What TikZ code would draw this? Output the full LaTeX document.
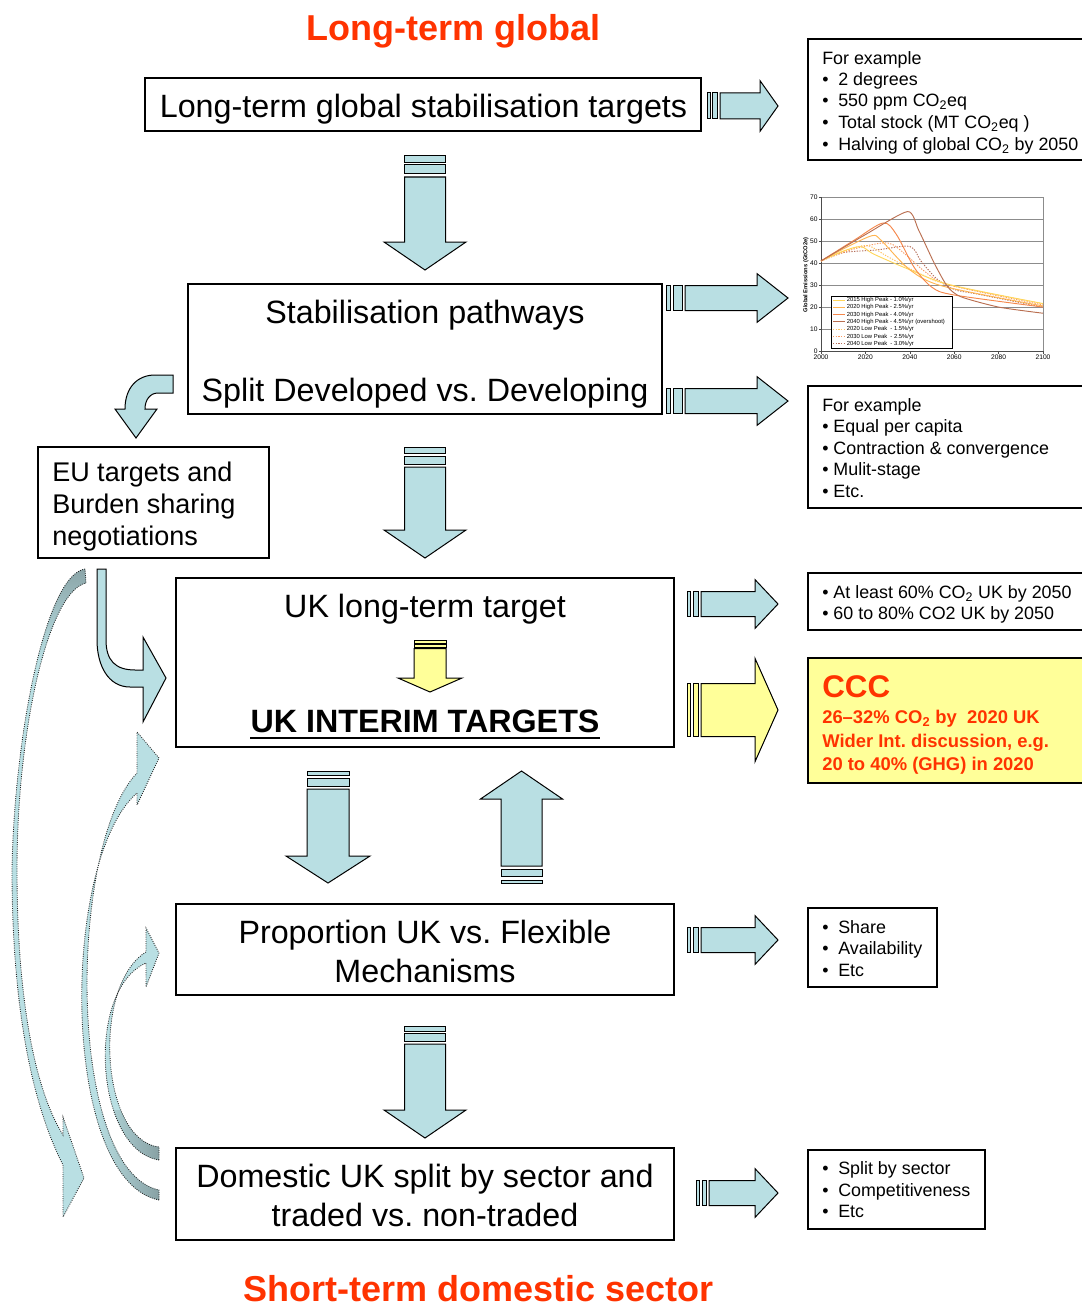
\documentclass[tikz,border=0pt]{standalone}
\usepackage{fontspec}
\setmainfont{Liberation Sans}
\usetikzlibrary{fit}
\frenchspacing
\definecolor{titlered}{RGB}{255,51,0}
\definecolor{arrowblue}{RGB}{185,223,227}
\definecolor{tailgray}{RGB}{135,160,163}
\definecolor{paleyellow}{RGB}{255,255,153}
\definecolor{gridgray}{RGB}{140,140,140}
\definecolor{cA}{RGB}{255,214,90}
\definecolor{cB}{RGB}{255,180,80}
\definecolor{cC}{RGB}{245,135,75}
\definecolor{cD}{RGB}{185,110,80}
\definecolor{cE}{RGB}{255,195,100}
\definecolor{cF}{RGB}{248,155,100}
\definecolor{cG}{RGB}{180,110,90}
\def\blkcolor{arrowblue}
% right-pointing block arrow with two stripes: x0 x1 x2 x3 x4 xbase xtip yc halfshaft
\newcommand\rblock[9]{%
  \draw[blockarrow] (#1,{#8-#9}) rectangle (#2,{#8+#9});
  \draw[blockarrow] (#3,{#8-#9}) rectangle (#4,{#8+#9});
  \draw[blockarrow] (#5,{#8-#9}) -- (#6,{#8-#9}) -- (#6,{#8-1.95*#9}) -- (#7,#8) -- (#6,{#8+1.95*#9}) -- (#6,{#8+#9}) -- (#5,{#8+#9}) -- cycle;}
% down block arrow: xc y0 y1 y2 y3 y4 ybase ytip halfshaft
\newcommand\dblock[9]{%
  \draw[blockarrow] ({#1-#9},#2) rectangle ({#1+#9},#3);
  \draw[blockarrow] ({#1-#9},#4) rectangle ({#1+#9},#5);
  \draw[blockarrow] ({#1-#9},#6) -- ({#1-#9},#7) -- ({#1-2*#9},#7) -- (#1,#8) -- ({#1+2*#9},#7) -- ({#1+#9},#7) -- ({#1+#9},#6) -- cycle;}
% up block arrow: xc ytip ybase yend s1a s1b s2a s2b halfshaft
\newcommand\ublock[9]{%
  \draw[blockarrow] ({#1-#9},#4) -- ({#1-#9},#3) -- ({#1-2*#9},#3) -- (#1,#2) -- ({#1+2*#9},#3) -- ({#1+#9},#3) -- ({#1+#9},#4) -- cycle;
  \draw[blockarrow] ({#1-#9},#5) rectangle ({#1+#9},#6);
  \draw[blockarrow] ({#1-#9},#7) rectangle ({#1+#9},#8);}
\newcommand\legrow[5]{%
  \draw[#2, line width=0.7pt, #3] (833,#1) -- (845,#1);
  \node[legtxt] (#5) at (846.5,#1) {#4};}
% curved dotted arrows
\def\curveA{(85,569) .. controls (45,575) and (14,740) .. (12,870) .. controls (12,1000) and (30,1100) .. (63,1165) -- (63,1217) -- (84,1178) -- (63,1117) -- (63,1135) .. controls (35,1090) and (17,1000) .. (17,870) .. controls (17,730) and (48,592) .. (86,583) -- cycle}
\def\curveB{(159,1200) .. controls (60,1180) and (60,860) .. (137,793) -- (137,805) -- (159,758) -- (137,732) -- (137,773) .. controls (68,845) and (66,1170) .. (159,1190) -- cycle}
\def\curveC{(159,1160) .. controls (95,1150) and (85,990) .. (146,963) -- (146,987) -- (159,953) -- (146,928) -- (146,952) .. controls (92,985) and (100,1140) .. (159,1147) -- cycle}
\begin{document}
\begin{tikzpicture}[x=0.75pt,y=-0.75pt,
  mainbox/.style={draw=black, line width=0.9pt, inner sep=0pt, fill=white},
  maintext/.style={font=\fontsize{24.2}{29}\selectfont, inner sep=0pt, anchor=base},
  eutext/.style={font=\fontsize{20.25}{24}\selectfont, inner sep=0pt, anchor=base west},
  rtext/.style={font=\fontsize{13.4}{16}\selectfont, inner sep=0pt, anchor=base west},
  ccctext/.style={font=\fontsize{13.8}{17}\bfseries\selectfont, text=titlered, inner sep=0pt, anchor=base west},
  titletext/.style={font=\fontsize{27}{30}\bfseries\selectfont, text=titlered, inner sep=0pt, anchor=base},
  rbox/.style={draw=black, line width=0.8pt},
  blockarrow/.style={draw=black, line width=0.75pt, fill=\blkcolor, line join=miter},
  curvedarrow/.style={draw=black!85, densely dotted, line width=0.65pt},
  ticklbl/.style={font=\fontsize{5}{6}\selectfont, inner sep=0pt},
  legtxt/.style={font=\fontsize{4.4}{5}\selectfont, anchor=west, inner sep=0pt},
  dotcurve/.style={dash pattern=on 1pt off 1pt}
]
\useasboundingbox (0,0) rectangle (1081,1309);

% ---------- titles
\node[titletext] (ttop) at (453.5,40.5) {Long-term global};
\node[titletext] (tbot) at (478.5,1301) {Short-term domestic sector};

% ---------- main boxes
\node[mainbox, fit={(145,78) (701,131)}] (b1) {};
\node[maintext] (b1t) at (423.5,117.5) {Long-term global stabilisation targets};

\node[mainbox, fit={(188,284) (662,414)}] (b2) {};
\node[maintext] (b2a) at (425,323.5) {Stabilisation pathways};
\node[maintext] (b2b) at (425,401.5) {Split Developed vs. Developing};

\node[mainbox, fit={(38,447) (269,558)}] (eu) {};
\node[eutext] (eua) at (52,481.7) {EU targets and};
\node[eutext] (eub) at (52,513.7) {Burden sharing};
\node[eutext] (euc) at (52,545.7) {negotiations};

\node[mainbox, fit={(176,578) (674,747)}] (uk) {};
\node[maintext] (uka) at (425,617.5) {UK long-term target};
\node[maintext, font=\fontsize{24.2}{29}\bfseries\selectfont] (ukb) at (425,732.5) {UK INTERIM TARGETS};
\draw[line width=1.5pt] ([yshift=-4.3pt]ukb.base west) -- ([yshift=-4.3pt]ukb.base east);

\node[mainbox, fit={(176,904) (674,995)}] (pr) {};
\node[maintext] (pra) at (425,943.5) {Proportion UK vs. Flexible};
\node[maintext] (prb) at (425,982.5) {Mechanisms};

\node[mainbox, fit={(176,1148) (674,1240)}] (dm) {};
\node[maintext] (dma) at (425,1187.5) {Domestic UK split by sector and};
\node[maintext] (dmb) at (425,1226.5) {traded vs. non-traded};

% ---------- right boxes
\draw[rbox] (1082,39) -- (808,39) -- (808,160) -- (1082,160);
\node[rtext] (ra1) at (822,64.4) {For example};
\node[rtext] (ra2) at (822,85.4) {\makebox[12pt][l]{•}2 degrees};
\node[rtext] (ra3) at (822,106.4) {\makebox[12pt][l]{•}550 ppm CO\textsubscript{2}eq};
\node[rtext] (ra4) at (822,128.4) {\makebox[12pt][l]{•}Total stock (MT CO\textsubscript{2}eq )};
\node[rtext] (ra5) at (822,150.4) {\makebox[12pt][l]{•}Halving of global CO\textsubscript{2} by 2050};

\draw[rbox] (1082,386) -- (808,386) -- (808,508) -- (1082,508);
\node[rtext] (rb1) at (822,411.4) {For example};
\node[rtext] (rb2) at (822,432.4) {• Equal per capita};
\node[rtext] (rb3) at (822,454.4) {• Contraction \& convergence};
\node[rtext] (rb4) at (822,475.4) {• Mulit-stage};
\node[rtext] (rb5) at (822,497.4) {• Etc.};

\draw[rbox] (1082,573) -- (808,573) -- (808,630) -- (1082,630);
\node[rtext] (rc1) at (822,598.4) {• At least 60\% CO\textsubscript{2} UK by 2050};
\node[rtext] (rc2) at (822,619.4) {• 60 to 80\% CO2 UK by 2050};

\fill[paleyellow] (808,658) rectangle (1082,783);
\draw[rbox] (1082,658) -- (808,658) -- (808,783) -- (1082,783);
\node[ccctext, font=\fontsize{23.5}{28}\bfseries\selectfont] (ccc0) at (822,697) {CCC};
\node[ccctext] (ccc1) at (822,723.6) {26–32\% CO\textsubscript{2} by\ \ 2020 UK};
\node[ccctext] (ccc2) at (822,747.6) {Wider Int. discussion, e.g.};
\node[ccctext] (ccc3) at (822,770.6) {20 to 40\% (GHG) in 2020};

\node[rbox, inner sep=0pt, fit={(808,908) (937,987)}] (rd) {};
\node[rtext] (rd1) at (822,933.4) {\makebox[12pt][l]{•}Share};
\node[rtext] (rd2) at (822,954.4) {\makebox[12pt][l]{•}Availability};
\node[rtext] (rd3) at (822,976.4) {\makebox[12pt][l]{•}Etc};

\node[rbox, inner sep=0pt, fit={(808,1150) (985,1229)}] (re) {};
\node[rtext] (re1) at (822,1174.4) {\makebox[12pt][l]{•}Split by sector};
\node[rtext] (re2) at (822,1196.4) {\makebox[12pt][l]{•}Competitiveness};
\node[rtext] (re3) at (822,1217.4) {\makebox[12pt][l]{•}Etc};

% ---------- chart
\node[font=\fontsize{4.3}{5}\bfseries\selectfont, rotate=90, inner sep=0pt] (ylab) at (806,275) {Global Emissions (GtCO2e)};
\begin{scope}[shift={(821,351)}, x=1.665pt, y=1.647pt]
  \foreach \v in {10,20,...,70} \draw[gridgray, line width=0.35pt] (0,\v) -- (100,\v);
  \draw[gridgray, line width=0.35pt] (100,0) -- (100,70);
  \draw[black!70, line width=0.35pt] (0,70) -- (0,0) -- (100,0);
  \foreach \v in {0,10,...,70} {\draw[black!70, line width=0.3pt] (-1,\v) -- (0,\v);
    \node[ticklbl, anchor=east] (yt\v) at (-1.4,\v) {\v};}
  \foreach \yr in {2000,2020,...,2100} {\draw[black!70, line width=0.3pt] ({\yr-2000},0) -- ({\yr-2000},-1.2);
    \node[ticklbl, anchor=north] (xt\yr) at ({\yr-2000},-1.8) {\yr};}
  % curves
  \draw[cG, line width=0.7pt, dotcurve] plot[smooth, tension=0.5] coordinates {(0,41) (10,44.8) (25,46) (40,47.6) (45,41) (52,33) (60,28) (70,26) (100,20)};
  \draw[cF, line width=0.7pt, dotcurve] plot[smooth, tension=0.5] coordinates {(0,41) (15,46.5) (30,49.2) (38,44) (47,36) (58,30) (100,21)};
  \draw[cE, line width=0.7pt, dotcurve] plot[smooth, tension=0.5] coordinates {(0,41) (12,46) (21,48) (30,43) (45,35) (58,30) (100,21.5)};
  \draw[cA, line width=0.7pt] plot[smooth, tension=0.5] coordinates {(0,41) (10,45.5) (18,47.5) (24,44) (40,37) (58,30.2) (100,21.6)};
  \draw[cB, line width=0.7pt] plot[smooth, tension=0.5] coordinates {(0,41) (12,47.5) (23,52.5) (27,50.5) (40,37) (55,29.5) (100,20.5)};
  \draw[cC, line width=0.7pt] plot[smooth, tension=0.5] coordinates {(0,41) (15,50.5) (28,58.3) (34,53) (42,38) (50,29) (60,25.5) (100,20)};
  \draw[cD, line width=0.7pt] plot[smooth, tension=0.4] coordinates {(0,41) (20,53) (39,63.5) (44,55) (51,40) (57,29.3) (63,24.7) (80,20) (100,17.2)};
\end{scope}
\node[draw=black, line width=0.3pt, fill=white, inner sep=0pt, fit={(831,296) (952,348)}] (legend) {};
\legrow{300}{cA}{solid}{2015 High Peak - 1.0\%/yr}{l1}
\legrow{307.3}{cB}{solid}{2020 High Peak - 2.5\%/yr}{l2}
\legrow{314.6}{cC}{solid}{2030 High Peak - 4.0\%/yr}{l3}
\legrow{321.9}{cD}{solid}{2040 High Peak - 4.5\%/yr (overshoot)}{l4}
\legrow{329.2}{cE}{dotcurve}{2020 Low Peak\ \ - 1.5\%/yr}{l5}
\legrow{336.5}{cF}{dotcurve}{2030 Low Peak\ \ - 2.5\%/yr}{l6}
\legrow{343.8}{cG}{dotcurve}{2040 Low Peak\ \ - 3.0\%/yr}{l7}

% ---------- block arrows
\rblock{707}{710}{712}{717}{720}{760}{778}{106}{13}
\rblock{666}{670}{673}{682}{685}{757}{788}{298}{12.5}
\rblock{666}{670}{673}{682}{685}{757}{788}{401}{12.5}
\rblock{687}{690}{693}{698}{701}{755}{778}{604}{12.5}
\rblock{687}{690}{693}{698}{701}{755}{778}{940}{12.5}
\rblock{696}{699}{702}{706}{709}{755}{778}{1193}{12.5}
\dblock{425}{156}{163}{165}{174}{177}{242}{270}{20.5}
\dblock{425}{447}{453}{456}{464}{467}{530}{558}{20.5}
\dblock{328}{771}{775}{778}{786}{789}{856}{883}{21}
\dblock{425}{1026}{1031}{1033}{1041}{1044}{1110}{1138}{20.5}
\ublock{521.5}{771}{799}{866}{869}{876}{880}{883}{20.5}
\begin{scope}
\def\blkcolor{paleyellow}
\rblock{687}{690}{693}{698}{701}{755}{778}{710}{26.5}
\dblock{430}{640}{643}{644.5}{647}{648.5}{678}{692}{16}
\end{scope}

% bent arrows
\draw[blockarrow] (173,375) -- (155,375) .. controls (137,375) and (125,388) .. (125,409) -- (115,409) -- (136,438) -- (157,409) -- (145,409) .. controls (145,400) and (150,393) .. (158,393) -- (173,393) -- cycle;
\draw[blockarrow] (97,569) -- (106,569) -- (106,640) .. controls (106,660) and (115,670) .. (135,670) -- (143,670) -- (143,637) -- (166,678) -- (143,722) -- (143,687) -- (130,687) .. controls (108,687) and (97,665) .. (97,640) -- cycle;

% curved dotted arrows
\fill[arrowblue] \curveA;
\begin{scope}
  \clip \curveA;
  \shade[top color=tailgray, bottom color=arrowblue] (0,560) rectangle (100,660);
\end{scope}
\draw[curvedarrow] \curveA;

\fill[arrowblue] \curveB;
\begin{scope}
  \clip \curveB;
  \shade[left color=arrowblue, right color=tailgray] (95,1110) rectangle (160,1205);
\end{scope}
\draw[curvedarrow] \curveB;

\fill[arrowblue] \curveC;
\begin{scope}
  \clip \curveC;
  \shade[left color=arrowblue, right color=tailgray] (95,1110) rectangle (160,1205);
\end{scope}
\draw[curvedarrow] \curveC;
\end{tikzpicture}
\end{document}
